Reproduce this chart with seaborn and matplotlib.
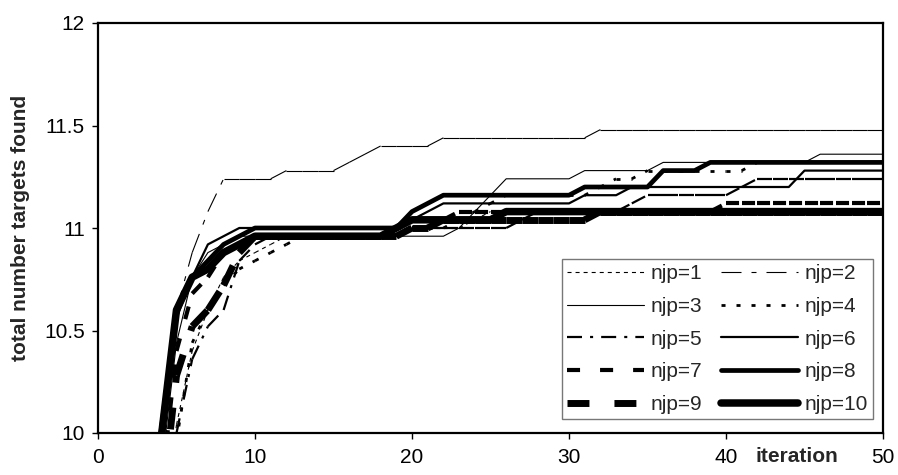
import matplotlib
matplotlib.use("Agg")
import matplotlib.pyplot as plt
from matplotlib.lines import Line2D
import pandas as pd
import seaborn as sns

# ---------------- data (iterations 3..50) ----------------
iterations = list(range(3, 51))

njp1 = [9.00, 9.50, 10.04, 10.40, 10.60, 10.76, 10.84, 10.88, 10.92, 10.96,
        10.96, 10.96, 10.96, 10.96, 10.96, 10.96, 11.00, 11.00, 11.00, 11.00,
        11.00, 11.04, 11.08, 11.08, 11.08, 11.08, 11.08, 11.08, 11.08, 11.08,
        11.08, 11.08, 11.08, 11.08, 11.08, 11.08, 11.08, 11.08, 11.08, 11.08,
        11.08, 11.08, 11.08, 11.08, 11.08, 11.08, 11.08, 11.08]
njp2 = [9.20, 9.90, 10.60, 10.88, 11.08, 11.24, 11.24, 11.24, 11.24, 11.28,
        11.28, 11.28, 11.28, 11.32, 11.36, 11.40, 11.40, 11.40, 11.40, 11.44,
        11.44, 11.44, 11.44, 11.44, 11.44, 11.44, 11.44, 11.44, 11.44, 11.48,
        11.48, 11.48, 11.48, 11.48, 11.48, 11.48, 11.48, 11.48, 11.48, 11.48,
        11.48, 11.48, 11.48, 11.48, 11.48, 11.48, 11.48, 11.48]
njp3 = [9.00, 9.80, 10.44, 10.76, 10.88, 10.92, 10.96, 10.96, 10.96, 10.96,
        10.96, 10.96, 10.96, 10.96, 10.96, 10.96, 10.96, 10.96, 10.96, 10.96,
        11.00, 11.08, 11.16, 11.24, 11.24, 11.24, 11.24, 11.24, 11.28, 11.28,
        11.28, 11.28, 11.28, 11.32, 11.32, 11.32, 11.32, 11.32, 11.32, 11.32,
        11.32, 11.32, 11.32, 11.36, 11.36, 11.36, 11.36, 11.36]
njp4 = [8.90, 9.40, 9.96, 10.44, 10.60, 10.72, 10.80, 10.84, 10.88, 10.92,
        10.96, 10.96, 10.96, 10.96, 10.96, 10.96, 11.00, 11.00, 11.00, 11.00,
        11.04, 11.08, 11.12, 11.16, 11.16, 11.16, 11.16, 11.16, 11.16, 11.20,
        11.24, 11.24, 11.28, 11.28, 11.28, 11.28, 11.28, 11.28, 11.28, 11.32,
        11.32, 11.32, 11.32, 11.32, 11.32, 11.32, 11.32, 11.32]
njp5 = [8.90, 9.50, 10.00, 10.36, 10.52, 10.60, 10.84, 10.92, 10.96, 10.96,
        10.96, 10.96, 10.96, 10.96, 10.96, 10.96, 10.96, 11.00, 11.00, 11.00,
        11.00, 11.00, 11.00, 11.00, 11.04, 11.08, 11.08, 11.08, 11.08, 11.08,
        11.08, 11.12, 11.16, 11.16, 11.16, 11.16, 11.16, 11.16, 11.20, 11.24,
        11.24, 11.24, 11.24, 11.24, 11.24, 11.24, 11.24, 11.24]
njp6 = [9.10, 9.92, 10.56, 10.76, 10.92, 10.96, 11.00, 11.00, 11.00, 11.00,
        11.00, 11.00, 11.00, 11.00, 11.00, 11.00, 11.00, 11.04, 11.08, 11.12,
        11.12, 11.12, 11.12, 11.12, 11.12, 11.12, 11.12, 11.12, 11.16, 11.16,
        11.16, 11.20, 11.20, 11.20, 11.20, 11.20, 11.20, 11.20, 11.20, 11.20,
        11.20, 11.20, 11.28, 11.28, 11.28, 11.28, 11.28, 11.28]
njp7 = [9.00, 9.70, 10.40, 10.68, 10.76, 10.88, 10.92, 10.96, 10.96, 10.96,
        10.96, 10.96, 10.96, 10.96, 10.96, 10.96, 10.96, 11.00, 11.00, 11.04,
        11.08, 11.08, 11.08, 11.08, 11.08, 11.08, 11.08, 11.08, 11.08, 11.08,
        11.08, 11.08, 11.08, 11.08, 11.08, 11.08, 11.08, 11.12, 11.12, 11.12,
        11.12, 11.12, 11.12, 11.12, 11.12, 11.12, 11.12, 11.12]
njp8 = [9.20, 10.00, 10.60, 10.76, 10.84, 10.92, 10.96, 11.00, 11.00, 11.00,
        11.00, 11.00, 11.00, 11.00, 11.00, 11.00, 11.00, 11.08, 11.12, 11.16,
        11.16, 11.16, 11.16, 11.16, 11.16, 11.16, 11.16, 11.16, 11.20, 11.20,
        11.20, 11.20, 11.20, 11.28, 11.28, 11.28, 11.32, 11.32, 11.32, 11.32,
        11.32, 11.32, 11.32, 11.32, 11.32, 11.32, 11.32, 11.32]
njp9 = [8.90, 9.60, 10.28, 10.52, 10.60, 10.72, 10.88, 10.96, 10.96, 10.96,
        10.96, 10.96, 10.96, 10.96, 10.96, 10.96, 10.96, 11.00, 11.00, 11.04,
        11.04, 11.04, 11.04, 11.04, 11.04, 11.04, 11.04, 11.04, 11.04, 11.08,
        11.08, 11.08, 11.08, 11.08, 11.08, 11.08, 11.08, 11.08, 11.08, 11.08,
        11.08, 11.08, 11.08, 11.08, 11.08, 11.08, 11.08, 11.08]
njp10 = [9.00, 9.96, 10.60, 10.76, 10.80, 10.88, 10.92, 10.96, 10.96, 10.96,
         10.96, 10.96, 10.96, 10.96, 10.96, 10.96, 11.00, 11.04, 11.04, 11.04,
         11.04, 11.04, 11.04, 11.08, 11.08, 11.08, 11.08, 11.08, 11.08, 11.08,
         11.08, 11.08, 11.08, 11.08, 11.08, 11.08, 11.08, 11.08, 11.08, 11.08,
         11.08, 11.08, 11.08, 11.08, 11.08, 11.08, 11.08, 11.08]

series_names = ["njp=1", "njp=2", "njp=3", "njp=4", "njp=5",
                "njp=6", "njp=7", "njp=8", "njp=9", "njp=10"]
series_values = [njp1, njp2, njp3, njp4, njp5, njp6, njp7, njp8, njp9, njp10]

x_ticks = [0, 10, 20, 30, 40, 50]
y_ticks = [10, 10.5, 11, 11.5, 12]
y_tick_labels = ["10", "10.5", "11", "11.5", "12"]

# ---------------- styles ----------------
# (linewidth pt, dash pattern in pt or None for solid)
styles = {
    "njp=1": (0.8, (2.9, 2.9)),
    "njp=2": (0.8, (14.4, 7.2, 3.6, 7.2)),
    "njp=3": (0.8, None),
    "njp=4": (2.0, (2.9, 7.9)),
    "njp=5": (1.6, (10.8, 5.8, 2.2, 5.8)),
    "njp=6": (1.6, None),
    "njp=7": (3.0, (9.4, 14.4)),
    "njp=8": (3.4, None),
    "njp=9": (5.0, (15.8, 18.0)),
    "njp=10": (5.4, None),
}

FS = 15

sns.set_style("white")
plt.rcParams["font.family"] = ["Liberation Sans", "DejaVu Sans"]
plt.rcParams["lines.scale_dashes"] = False

fig = plt.figure(figsize=(8.98, 4.75), dpi=100)
ax = fig.add_axes([98 / 898, 1 - 433 / 475, 785 / 898, 410 / 475])


def segment_table(xs, ys):
    rows = []
    for i in range(len(xs) - 1):
        rows.append((i, xs[i], ys[i]))
        rows.append((i, xs[i + 1], ys[i + 1]))
    return pd.DataFrame(rows, columns=["seg", "iteration", "value"])


for name, vals in zip(series_names, series_values):
    lw, dash = styles[name]
    if dash is None:
        df = pd.DataFrame({"iteration": iterations, "value": vals})
        sns.lineplot(data=df, x="iteration", y="value", ax=ax, color="black",
                     linewidth=lw, solid_capstyle="round", solid_joinstyle="round",
                     legend=False)
    else:
        df = segment_table(iterations, vals)
        sns.lineplot(data=df, x="iteration", y="value", units="seg",
                     estimator=None, ax=ax, color="black", linewidth=lw,
                     linestyle=(0, dash), dash_capstyle="butt", legend=False)

ax.set_xlim(0, 50)
ax.set_ylim(10, 12)
ax.set_xticks(x_ticks)
ax.set_yticks(y_ticks)
ax.set_yticklabels(y_tick_labels)

for sp in ax.spines.values():
    sp.set_visible(True)
    sp.set_color("black")
    sp.set_linewidth(1.6)

ax.tick_params(axis="both", direction="out", length=4.5, width=1.0,
               color="black", labelsize=FS, labelcolor="black",
               left=True, bottom=True)
ax.tick_params(axis="y", pad=5)
ax.tick_params(axis="x", pad=6)

ax.set_xlabel("iteration", fontsize=FS, fontweight="bold")
ax.xaxis.set_label_coords((797 - 98) / 785, -0.033)
ax.set_ylabel("total number targets found", fontsize=FS, fontweight="bold")
ax.yaxis.set_label_coords((21 - 98) / 785, 0.5)
ax.yaxis.label.set_va("center")

# legend (row-wise order: 1 2 / 3 4 / ...)
handles = {}
for name in series_names:
    lw, dash = styles[name]
    ls = "-" if dash is None else (0, dash)
    handles[name] = Line2D([0], [0], color="black", linewidth=lw, linestyle=ls,
                           solid_capstyle="round", dash_capstyle="butt")
order = ["njp=1", "njp=3", "njp=5", "njp=7", "njp=9",
         "njp=2", "njp=4", "njp=6", "njp=8", "njp=10"]
leg = ax.legend([handles[n] for n in order], order, ncol=2,
                loc="upper left", bbox_to_anchor=((562 - 98) / 785, (433 - 259) / 410),
                borderaxespad=0, frameon=True, fancybox=False, fontsize=FS,
                handlelength=3.7, handletextpad=0.3, columnspacing=0.9,
                labelspacing=0.66, borderpad=0.25)
leg.get_frame().set_edgecolor("#555555")
leg.get_frame().set_linewidth(1.0)

fig.savefig("out.png", dpi=100, facecolor="white")
